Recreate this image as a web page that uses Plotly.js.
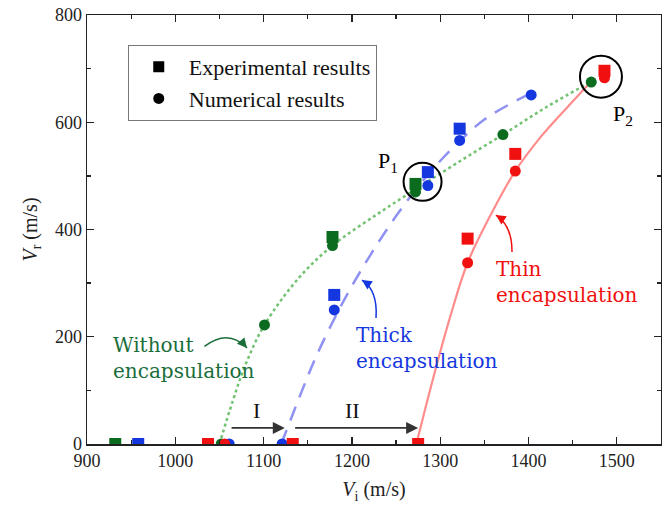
<!DOCTYPE html>
<html>
<head>
<meta charset="utf-8">
<script src="https://cdn.plot.ly/plotly-3.0.1.min.js"></script>
<style>html,body{margin:0;padding:0;background:#fff;}#chart{width:662px;height:509px;}</style>
</head>
<body>
<div id="chart"></div>
<script>
// ---- data ----
// Without encapsulation
const greenExpX = [932, 1178, 1272];
const greenExpY = [0, 386, 485];
const greenNumX = [1052, 1101, 1178, 1272, 1371, 1471];
const greenNumY = [0, 222, 370, 470, 577, 675];
const greenFitX = [1050, 1065, 1080, 1101, 1140, 1178, 1230, 1275, 1320, 1371, 1420, 1470];
const greenFitY = [0, 80, 150, 222, 310, 370, 430, 478, 525, 577, 628, 675];
// Thick encapsulation
const blueExpX = [958, 1180, 1286, 1322];
const blueExpY = [0, 278, 507, 588];
const blueNumX = [1061, 1121, 1180, 1286, 1322, 1403];
const blueNumY = [0, 0, 250, 482, 566, 651];
const blueFitX = [1120, 1140, 1160, 1190, 1220, 1250, 1280, 1310, 1350, 1400];
const blueFitY = [0, 85, 165, 265, 350, 425, 490, 545, 605, 652];
// Thin encapsulation
const redExpX = [1037, 1133, 1275, 1331, 1385, 1486];
const redExpY = [0, 0, 0, 383, 541, 696];
const redNumX = [1056, 1331, 1385, 1486];
const redNumY = [0, 338, 509, 683];
const redFitX = [1273, 1290, 1310, 1331, 1358, 1385, 1415, 1445, 1472];
const redFitY = [0, 110, 230, 338, 430, 509, 575, 630, 678];
// legend labels
const legendLabels = ["Experimental results", "Numerical results"];
// axes ticks
const xTicks = [900, 1000, 1100, 1200, 1300, 1400, 1500];
const yTicks = [0, 200, 400, 600, 800];

const GREEN = '#0b6b1f', BLUE = '#1437e0', RED = '#f01010';
const serif = 'Liberation Serif, Times New Roman, serif';
const annFont = 'DejaVu Serif, serif';

const traces = [
  {x: greenFitX, y: greenFitY, mode: 'lines', line: {color: '#72c272', width: 2.5, dash: 'dot', shape: 'spline'}, showlegend: false, hoverinfo: 'skip'},
  {x: blueFitX, y: blueFitY, mode: 'lines', line: {color: '#8f92f2', width: 2.5, dash: '15px,10px', shape: 'spline'}, showlegend: false, hoverinfo: 'skip'},
  {x: redFitX, y: redFitY, mode: 'lines', line: {color: '#ff8c8c', width: 2.2, shape: 'spline'}, showlegend: false, hoverinfo: 'skip'},
  {x: greenNumX, y: greenNumY, mode: 'markers', marker: {symbol: 'circle', size: 11, color: GREEN}, showlegend: false},
  {x: blueNumX, y: blueNumY, mode: 'markers', marker: {symbol: 'circle', size: 11, color: BLUE}, showlegend: false},
  {x: redNumX, y: redNumY, mode: 'markers', marker: {symbol: 'circle', size: 11, color: RED}, showlegend: false},
  {x: greenExpX, y: greenExpY, mode: 'markers', marker: {symbol: 'square', size: 12, color: GREEN}, showlegend: false},
  {x: blueExpX, y: blueExpY, mode: 'markers', marker: {symbol: 'square', size: 12, color: BLUE}, showlegend: false},
  {x: redExpX, y: redExpY, mode: 'markers', marker: {symbol: 'square', size: 12, color: RED}, showlegend: false},
  {x: [null], y: [null], name: legendLabels[0], mode: 'markers', marker: {symbol: 'square', size: 11, color: '#000'}},
  {x: [null], y: [null], name: legendLabels[1], mode: 'markers', marker: {symbol: 'circle', size: 11, color: '#000'}}
];

function curve(x0, y0, cx, cy, x1, y1, color) {
  return {type: 'path', xref: 'x', yref: 'y', path: `M ${x0},${y0} Q ${cx},${cy} ${x1},${y1}`, line: {color: color, width: 1.5}};
}
function head(x, y, ax, ay, color) {
  return {x: x, y: y, xref: 'x', yref: 'y', ax: ax, ay: ay, axref: 'pixel', ayref: 'pixel', text: '', showarrow: true, arrowhead: 2, arrowsize: 1.3, arrowwidth: 1.5, arrowcolor: color};
}

const shapes = [
  {type: 'circle', xref: 'x', yref: 'y', xsizemode: 'pixel', ysizemode: 'pixel', xanchor: 1280, yanchor: 489, x0: -19, x1: 19, y0: -19, y1: 19, line: {color: '#000', width: 2}},
  {type: 'circle', xref: 'x', yref: 'y', xsizemode: 'pixel', ysizemode: 'pixel', xanchor: 1482, yanchor: 685, x0: -21, x1: 21, y0: -21, y1: 21, line: {color: '#000', width: 2}},
  curve(1033, 182, 1060, 216, 1081.2, 179, '#1a6e3a'),
  curve(1227.3, 235, 1229.5, 287, 1211.4, 305.8, BLUE),
  curve(1381.3, 358, 1381.3, 408, 1363.1, 427, RED)
];

const annotations = [
  {x: 927, y: 160, xref: 'x', yref: 'y', xanchor: 'left', yanchor: 'middle', align: 'left', showarrow: false, text: 'Without<br>encapsulation', font: {family: annFont, size: 20, color: '#1a6e3a'}},
  {x: 1202.5, y: 179, xref: 'x', yref: 'y', xanchor: 'left', yanchor: 'middle', align: 'left', showarrow: false, text: 'Thick<br>encapsulation', font: {family: annFont, size: 20, color: BLUE}},
  {x: 1361, y: 302, xref: 'x', yref: 'y', xanchor: 'left', yanchor: 'middle', align: 'left', showarrow: false, text: 'Thin<br>encapsulation', font: {family: annFont, size: 20, color: RED}},
  head(1081.2, 179, -6, -7, '#1a6e3a'),
  head(1211.4, 305.8, 6, 4, BLUE),
  head(1363.1, 427, 6, 4, RED),
  {x: 1241, y: 526, xref: 'x', yref: 'y', showarrow: false, text: 'P<sub>1</sub>', font: {family: serif, size: 22, color: '#000'}},
  {x: 1507, y: 613, xref: 'x', yref: 'y', showarrow: false, text: 'P<sub>2</sub>', font: {family: serif, size: 22, color: '#000'}},
  {x: 1092.5, y: 63, xref: 'x', yref: 'y', showarrow: false, text: 'I', font: {family: serif, size: 22, color: '#111'}},
  {x: 1201, y: 63, xref: 'x', yref: 'y', showarrow: false, text: 'II', font: {family: serif, size: 22, color: '#111'}},
  {x: 1124, y: 30, ax: 1062, ay: 30, xref: 'x', yref: 'y', axref: 'x', ayref: 'y', text: '', showarrow: true, arrowhead: 2, arrowsize: 1.5, arrowwidth: 1.6, arrowcolor: '#333'},
  {x: 1275, y: 30, ax: 1134, ay: 30, xref: 'x', yref: 'y', axref: 'x', ayref: 'y', text: '', showarrow: true, arrowhead: 2, arrowsize: 1.5, arrowwidth: 1.6, arrowcolor: '#333'}
];

const layout = {
  width: 662, height: 509,
  margin: {l: 87, r: 1, t: 15, b: 65},
  paper_bgcolor: '#fff', plot_bgcolor: '#fff',
  font: {family: serif, size: 18, color: '#222'},
  showlegend: true,
  legend: {x: 0.071, y: 0.93, xanchor: 'left', yanchor: 'top', bordercolor: '#777', borderwidth: 1, bgcolor: '#fff', font: {family: serif, size: 22, color: '#111'}, itemwidth: 50, tracegroupgap: 0},
  xaxis: {
    range: [900, 1550], tickvals: xTicks, ticks: 'inside', ticklen: 7, tickwidth: 1.3, tickcolor: '#222',
    showline: true, linecolor: '#222', linewidth: 1.5, mirror: 'ticks', showgrid: false, zeroline: false,
    minor: {dtick: 50, tick0: 900, ticks: 'inside', ticklen: 4, tickwidth: 1.3, tickcolor: '#222', showgrid: false},
    tickfont: {family: serif, size: 18, color: '#222'},
    title: {text: '<i>V</i><sub>i</sub> (m/s)', font: {family: serif, size: 20, color: '#222'}, standoff: 12}
  },
  yaxis: {
    range: [0, 800], tickvals: yTicks, ticks: 'inside', ticklen: 7, tickwidth: 1.3, tickcolor: '#222',
    showline: true, linecolor: '#222', linewidth: 1.5, mirror: 'ticks', showgrid: false, zeroline: false,
    minor: {dtick: 100, tick0: 0, ticks: 'inside', ticklen: 4, tickwidth: 1.3, tickcolor: '#222', showgrid: false},
    tickfont: {family: serif, size: 18, color: '#222'},
    title: {text: '<i>V</i><sub>r</sub> (m/s)', font: {family: serif, size: 20, color: '#222'}, standoff: 12}
  },
  shapes: shapes,
  annotations: annotations
};

Plotly.newPlot('chart', traces, layout, {displayModeBar: false, staticPlot: true});
</script>
</body>
</html>
